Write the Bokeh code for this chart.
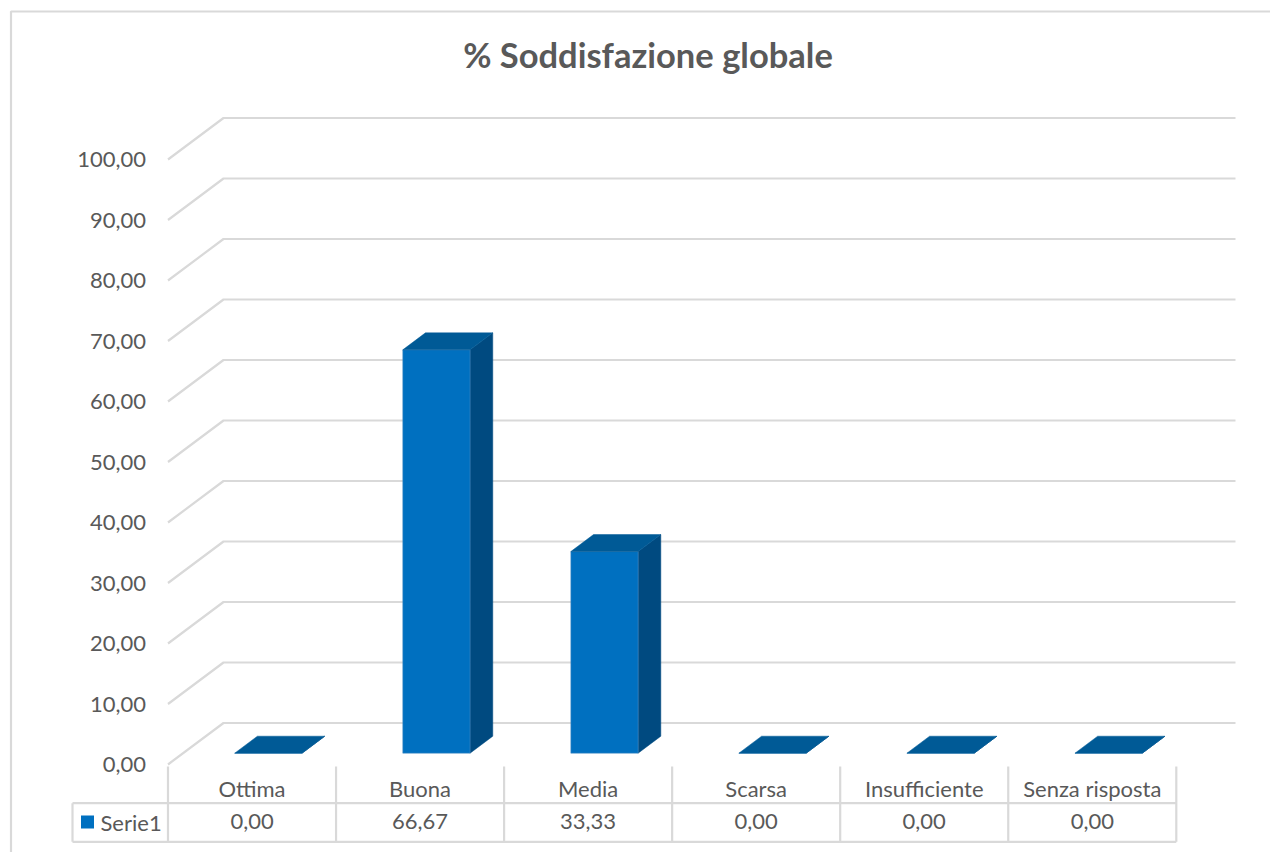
from bokeh.plotting import figure
from bokeh.embed import file_html
from bokeh.resources import INLINE
from bokeh.core.properties import value as V
from bokeh.models import Range1d, LinearAxis, FixedTicker

categories = ["Ottima", "Buona", "Media", "Scarsa", "Insufficiente", "Senza risposta"]
values = [0.00, 66.67, 33.33, 0.00, 0.00, 0.00]
y_ticks = [0, 10, 20, 30, 40, 50, 60, 70, 80, 90, 100]
series_name = "Serie1"
title = "% Soddisfazione globale"


def comma(v):
    return f"{v:.2f}".replace(".", ",")


W, H = 1270, 852
PX_X = 168.05  # pixels per category
PX_Y = 6.05    # pixels per value unit
x0_px, y0_px = 167.5, 764.0
def X(px): return (px - x0_px) / PX_X
def Y(px): return (y0_px - px) / PX_Y

FONT = "Lato"
GRID = "#D9D9D9"
TXT = "#595959"
FRONT, TOP, SIDE = "#0070C0", "#005A96", "#004A80"

p = figure(width=W, height=H, toolbar_location=None, output_backend="svg",
           x_range=Range1d(X(0), X(W)), y_range=Range1d(Y(H), Y(0)),
           min_border=0, min_border_left=0, min_border_right=0, min_border_top=0, min_border_bottom=0,
           x_axis_type=None, y_axis_type=None, outline_line_color=None, background_fill_color="white")
p.xgrid.visible = False
p.ygrid.visible = False

# outer border (right and bottom edges are cut off in the reference)
p.line([X(W), X(10.5), X(10.5)], [Y(11), Y(11), Y(H)], line_color=GRID, line_width=2.2)

# 3-D gridlines
dx, dy = X(223), (764 - 722.5) / PX_Y
rx = X(1235)
p.multi_line([[0, dx, rx] for _ in y_ticks], [[t, t + dy, t + dy] for t in y_ticks], line_color=GRID, line_width=2.2)

# table lines
ty0, ty1, ty2 = Y(766), Y(802.7), Y(841.3)
n = len(categories)
p.multi_line([[i, i] for i in range(n + 1)], [[ty0, ty2] for _ in range(n + 1)], line_color=GRID, line_width=2.2)
p.multi_line([[X(72), n], [X(72), n], [X(72), X(72)]], [[ty1, ty1], [ty2, ty2], [ty1, ty2]], line_color=GRID, line_width=2.2)

# 3-D bars
bl, br = 0.397, 0.7975
ddx, ddy = 22.7 / PX_X, 17.0 / PX_Y
base = (764 - 752.7) / PX_Y
xs_top, ys_top, xs_side, ys_side = [], [], [], []
for i, v in enumerate(values):
    l, r, t = i + bl, i + br, v + base
    xs_top.append([l, r, r + ddx, l + ddx])
    ys_top.append([t, t, t + ddy, t + ddy])
    xs_side.append([r, r + ddx, r + ddx, r])
    ys_side.append([base, base + ddy, t + ddy, t])
p.patches(xs_side, ys_side, fill_color=SIDE, line_color=SIDE, line_width=0.5)
p.quad(left=[i + bl for i in range(n)], right=[i + br for i in range(n)],
       bottom=[base] * n, top=[v + base for v in values], fill_color=FRONT, line_color="#4F8FC4", line_width=0.5)
p.patches(xs_top, ys_top, fill_color=TOP, line_color=TOP, line_width=0.5)

# value axis
ax = LinearAxis(fixed_location=0, ticker=FixedTicker(ticks=y_ticks),
                major_label_overrides={t: comma(t) for t in y_ticks},
                axis_line_color=None, major_tick_line_color=None, minor_tick_line_color=None,
                major_tick_out=0, major_tick_in=0, major_label_standoff=22,
                major_label_text_font=FONT, major_label_text_font_size="22px", major_label_text_color=TXT)
p.add_layout(ax, "left")

# category and data rows of the data table
mids = [i + 0.5 for i in range(n)]
cat_ax = LinearAxis(fixed_location=Y(774), ticker=FixedTicker(ticks=mids),
                    major_label_overrides=dict(zip(mids, categories)),
                    axis_line_color=None, major_tick_line_color=None, minor_tick_line_color=None,
                    major_tick_out=0, major_tick_in=0, major_label_standoff=0,
                    major_label_text_font=FONT, major_label_text_font_size="22px", major_label_text_color=TXT)
p.add_layout(cat_ax, "below")
val_ax = LinearAxis(fixed_location=Y(813), ticker=FixedTicker(ticks=mids),
                    major_label_overrides={m: comma(v) for m, v in zip(mids, values)},
                    axis_line_color=None, major_tick_line_color=None, minor_tick_line_color=None,
                    major_tick_out=0, major_tick_in=0, major_label_standoff=0,
                    major_label_text_font=FONT, major_label_text_font_size="22px", major_label_text_color=TXT)
p.add_layout(val_ax, "below")

# legend key + name
p.quad(left=[X(80.5)], right=[X(93.5)], top=[Y(815)], bottom=[Y(828)], fill_color=FRONT, line_color=None)
p.text([X(100)], [Y(821.5)], text=[series_name], text_font=V(FONT), text_font_size="22px",
       text_color=TXT, text_baseline="middle", text_align="left")

# title
p.text([X(647.5)], [Y(54)], text=[title], text_font=V(FONT), text_font_size="34.5px", text_font_style="bold",
       text_color=TXT, text_baseline="middle", text_align="center")

open("out.html", "w").write(file_html(p, INLINE))
